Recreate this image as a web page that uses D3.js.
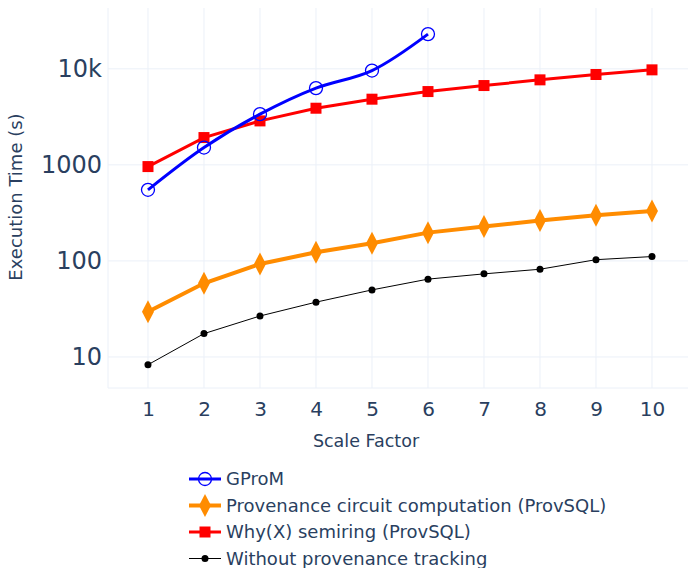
<!DOCTYPE html>
<html>
<head>
<meta charset="utf-8">
<script src="https://cdn.jsdelivr.net/npm/d3@7"></script>
<style>
  body { margin: 0; background: #fff; }
  svg text { font-family: "DejaVu Sans", Verdana, sans-serif; fill: #2a3f5f; }
</style>
</head>
<body>
<div id="chart"></div>
<script>
/* chart data */
var scaleFactors = [1, 2, 3, 4, 5, 6, 7, 8, 9, 10];
var gpromTimes = [550, 1515, 3375, 6300, 9600, 23000];
var circuitTimes = [29.6, 58.5, 93, 123, 153, 197, 228, 263, 299, 331];
var whyTimes = [960, 1925, 2870, 3890, 4830, 5800, 6700, 7680, 8730, 9760];
var plainTimes = [8.3, 17.5, 26.7, 37.2, 49.9, 64.6, 73.3, 81.9, 103, 111];
var yTickValues = [10, 100, 1000, 10000];
var yTickLabels = ["10", "100", "1000", "10k"];
var seriesNames = ["GProM", "Provenance circuit computation (ProvSQL)",
                   "Why(X) semiring (ProvSQL)", "Without provenance tracking"];

var totalWidth = 688, totalHeight = 568;
var margin = {top: 8, right: 0, bottom: 180, left: 108};
var width = totalWidth - margin.left - margin.right;
var height = totalHeight - margin.top - margin.bottom;

var svg = d3.select("#chart").append("svg")
    .attr("width", totalWidth)
    .attr("height", totalHeight);

var chart = svg.append("g")
    .attr("transform", "translate(" + margin.left + "," + margin.top + ")");

/* scales */
var x = d3.scaleLinear().domain([0.286, 10.643]).range([0, width]);
var y = d3.scaleLog().domain([4.75, 43000]).range([height, 0]);

/* grid */
chart.append("g").selectAll("line").data(scaleFactors)
    .enter().append("line")
    .attr("x1", function(d) { return x(d); }).attr("x2", function(d) { return x(d); })
    .attr("y1", 0).attr("y2", height)
    .attr("stroke", "#ebf0f8").attr("stroke-width", 1);

chart.append("g").selectAll("line").data(yTickValues)
    .enter().append("line")
    .attr("x1", 0).attr("x2", width)
    .attr("y1", function(d) { return y(d); }).attr("y2", function(d) { return y(d); })
    .attr("stroke", "#ebf0f8").attr("stroke-width", 1);

/* light frame lines on left and bottom */
chart.append("line").attr("x1", 0).attr("x2", width).attr("y1", height).attr("y2", height)
    .attr("stroke", "#ebf0f8");
chart.append("line").attr("x1", 0).attr("x2", 0).attr("y1", 0).attr("y2", height)
    .attr("stroke", "#ebf0f8");

/* axes */
var xAxis = d3.axisBottom(x).tickValues(scaleFactors).tickSize(0).tickPadding(14);
var yAxis = d3.axisLeft(y).tickValues(yTickValues).tickSize(0).tickPadding(6)
    .tickFormat(function(d, i) { return yTickLabels[i]; });

var gx = chart.append("g").attr("transform", "translate(0," + height + ")").call(xAxis);
gx.select(".domain").remove();
gx.selectAll("text").attr("font-size", 20).attr("dy", "0.71em")
    .style("font-family", "'DejaVu Sans', Verdana, sans-serif").attr("fill", "#2a3f5f");

var gy = chart.append("g").call(yAxis);
gy.select(".domain").remove();
gy.selectAll("text").attr("font-size", 24)
    .style("font-family", "'DejaVu Sans', Verdana, sans-serif").attr("fill", "#2a3f5f");

/* axis titles */
svg.append("text")
    .attr("transform", "translate(22," + (margin.top + 189) + ")rotate(-90)")
    .attr("text-anchor", "middle")
    .attr("font-size", 18)
    .text("Execution Time (s)");

svg.append("text")
    .attr("x", 366).attr("y", 447)
    .attr("text-anchor", "middle")
    .attr("font-size", 17.5)
    .text("Scale Factor");

/* line generators */
function lineFor(values, curve) {
    return d3.line()
        .x(function(d, i) { return x(scaleFactors[i]); })
        .y(function(d) { return y(d); })
        .curve(curve)(values);
}

var diamondPath = "M0,-11.5L6,0L0,11.5L-6,0Z";

/* plain (no provenance) */
chart.append("path").attr("d", lineFor(plainTimes, d3.curveLinear))
    .attr("fill", "none").attr("stroke", "#000").attr("stroke-width", 1);
chart.append("g").selectAll("circle").data(plainTimes).enter().append("circle")
    .attr("cx", function(d, i) { return x(scaleFactors[i]); })
    .attr("cy", function(d) { return y(d); })
    .attr("r", 3.5).attr("fill", "#000");

/* circuit computation */
chart.append("path").attr("d", lineFor(circuitTimes, d3.curveLinear))
    .attr("fill", "none").attr("stroke", "#ff8c00").attr("stroke-width", 4);
chart.append("g").selectAll("path").data(circuitTimes).enter().append("path")
    .attr("transform", function(d, i) { return "translate(" + x(scaleFactors[i]) + "," + y(d) + ")"; })
    .attr("d", diamondPath).attr("fill", "#ff8c00");

/* why(x) */
chart.append("path").attr("d", lineFor(whyTimes, d3.curveLinear))
    .attr("fill", "none").attr("stroke", "#ff0000").attr("stroke-width", 3);
chart.append("g").selectAll("rect").data(whyTimes).enter().append("rect")
    .attr("x", function(d, i) { return x(scaleFactors[i]) - 5.5; })
    .attr("y", function(d) { return y(d) - 5.5; })
    .attr("width", 11).attr("height", 11).attr("fill", "#ff0000");

/* gprom */
chart.append("path").attr("d", lineFor(gpromTimes, d3.curveCatmullRom.alpha(0.5)))
    .attr("fill", "none").attr("stroke", "#0000ff").attr("stroke-width", 3);
chart.append("g").selectAll("circle").data(gpromTimes).enter().append("circle")
    .attr("cx", function(d, i) { return x(scaleFactors[i]); })
    .attr("cy", function(d) { return y(d); })
    .attr("r", 6.5).attr("fill", "none").attr("stroke", "#0000ff").attr("stroke-width", 1.3);

/* legend */
var legend = svg.append("g").attr("transform", "translate(189,479)");
var rowGap = 26.5;
seriesNames.forEach(function(name, i) {
    var row = legend.append("g").attr("transform", "translate(0," + (i * rowGap) + ")");
    var colors = ["#0000ff", "#ff8c00", "#ff0000", "#000"];
    var widths = [3, 4, 3, 1];
    row.append("line").attr("x1", 0).attr("x2", 32).attr("y1", 0).attr("y2", 0)
        .attr("stroke", colors[i]).attr("stroke-width", widths[i]);
    if (i === 0) {
        row.append("circle").attr("cx", 16).attr("cy", 0).attr("r", 6.5)
            .attr("fill", "none").attr("stroke", colors[i]).attr("stroke-width", 1.3);
    } else if (i === 1) {
        row.append("path").attr("transform", "translate(16,0)").attr("d", diamondPath)
            .attr("fill", colors[i]);
    } else if (i === 2) {
        row.append("rect").attr("x", 10.5).attr("y", -5.5).attr("width", 11).attr("height", 11)
            .attr("fill", colors[i]);
    } else {
        row.append("circle").attr("cx", 16).attr("cy", 0).attr("r", 3.5).attr("fill", colors[i]);
    }
    row.append("text").attr("x", 37).attr("y", 0).attr("dy", "0.35em")
        .attr("font-size", 18).text(name);
});
</script>
</body>
</html>
